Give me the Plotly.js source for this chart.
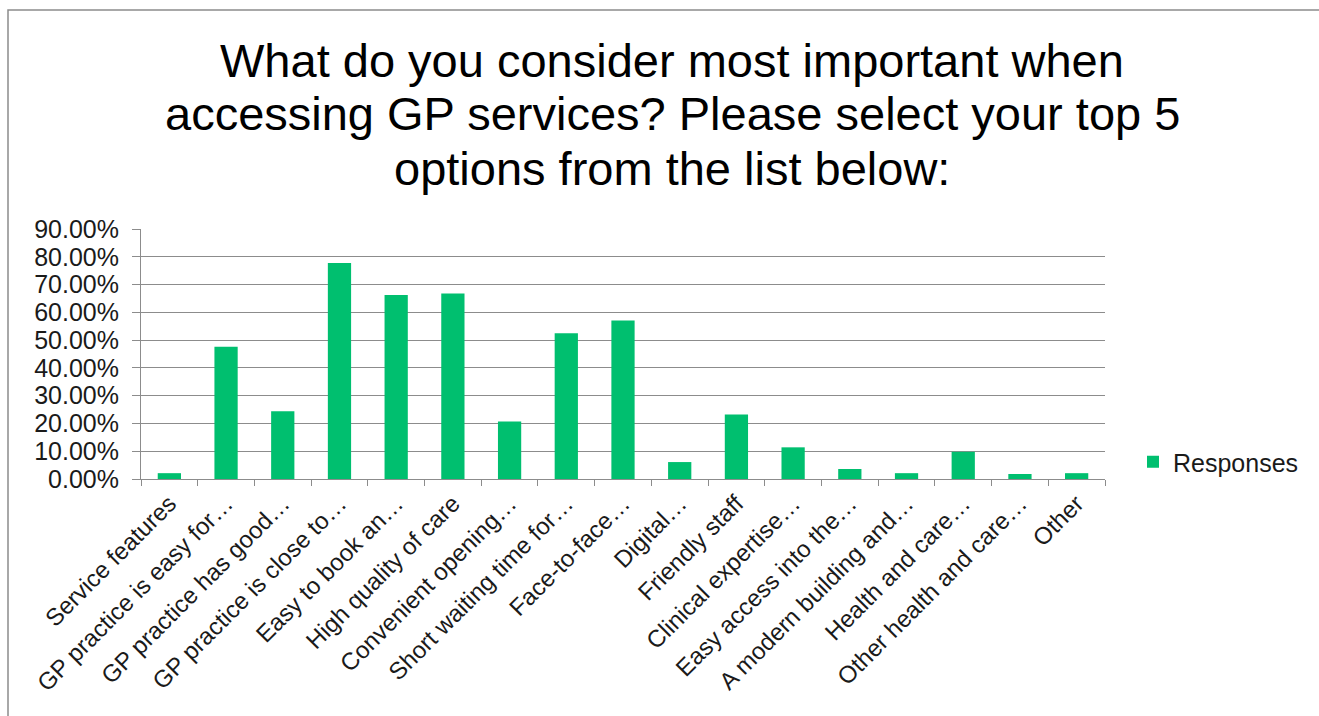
<!DOCTYPE html>
<html>
<head>
<meta charset="utf-8">
<script src="https://cdn.plot.ly/plotly-3.0.1.min.js"></script>
<style>
html,body{margin:0;padding:0;background:#fff;}
#chart{width:1319px;height:716px;}
</style>
</head>
<body>
<div id="chart"></div>
<script>
const categories = [
  "Service features",
  "GP practice is easy for\u2026",
  "GP practice has good\u2026",
  "GP practice is close to\u2026",
  "Easy to book an\u2026",
  "High quality of care",
  "Convenient opening\u2026",
  "Short waiting time for\u2026",
  "Face-to-face\u2026",
  "Digital\u2026",
  "Friendly staff",
  "Clinical expertise\u2026",
  "Easy access into the\u2026",
  "A modern building and\u2026",
  "Health and care\u2026",
  "Other health and care\u2026",
  "Other"
];
const responses = [0.021, 0.476, 0.244, 0.778, 0.662, 0.668, 0.207, 0.525, 0.571, 0.061, 0.232, 0.114, 0.036, 0.021, 0.098, 0.018, 0.021];
const yTickValues = [0, 0.1, 0.2, 0.3, 0.4, 0.5, 0.6, 0.7, 0.8, 0.9];
const titleLines = [
  "What do you consider most important when",
  "accessing GP services? Please select your top 5",
  "options from the list below:"
];
const seriesName = "Responses";

const FONT = "Liberation Sans, Arial, sans-serif";
const GRID = "#8c8c8c";
const PLOT_LEFT = 141, PLOT_W = 964, AXIS_Y = 479, PLOT_H = 250;
const titleCenters = [60, 113.6, 168.6]; // pixel rows of each title line's middle

const trace = {
  type: "bar",
  x: categories,
  y: responses,
  name: seriesName,
  marker: {color: "#00BF6F"},
  showlegend: true,
  hoverinfo: "x+y"
};

const annotations = titleLines.map((t, i) => ({
  text: t,
  xref: "paper", yref: "paper",
  x: (672 - PLOT_LEFT) / PLOT_W, xanchor: "center",
  y: (AXIS_Y - titleCenters[i]) / PLOT_H, yanchor: "middle",
  showarrow: false,
  font: {family: FONT, size: 47, color: "#000000"}
}));

const layout = {
  width: 1319,
  height: 716,
  paper_bgcolor: "#ffffff",
  plot_bgcolor: "#ffffff",
  margin: {l: 141, r: 214, t: 229, b: 237, pad: 0},
  bargap: 0.59,
  font: {family: FONT, color: "#1a1a1a", size: 25},
  annotations: annotations,
  xaxis: {
    type: "category",
    tickangle: -45,
    tickson: "boundaries",
    ticks: "outside",
    ticklen: 6,
    tickcolor: GRID,
    showline: true,
    linecolor: GRID,
    linewidth: 1,
    showgrid: false,
    tickfont: {family: FONT, size: 24, color: "#1a1a1a"},
    automargin: false
  },
  yaxis: {
    range: [0, 0.9],
    tickvals: yTickValues,
    tickformat: ".2%",
    showgrid: true,
    gridcolor: GRID,
    gridwidth: 1,
    showline: true,
    linecolor: GRID,
    linewidth: 1,
    ticks: "outside",
    ticklen: 8,
    tickcolor: GRID,
    zeroline: false,
    ticklabelstandoff: 8,
    tickfont: {family: FONT, size: 25, color: "#1a1a1a"},
    automargin: false
  },
  legend: {
    x: (1133 - PLOT_LEFT) / PLOT_W, xanchor: "left",
    y: (AXIS_Y - 462) / PLOT_H, yanchor: "middle",
    font: {family: FONT, size: 25, color: "#1a1a1a"},
    bgcolor: "rgba(0,0,0,0)",
    itemwidth: 30
  },
  shapes: [{
    type: "rect",
    xref: "paper", yref: "paper",
    x0: (8 - PLOT_LEFT) / PLOT_W, x1: 1.5,
    y0: -2, y1: (AXIS_Y - 10) / PLOT_H,
    line: {color: "#8c8c8c", width: 1.5},
    fillcolor: "rgba(0,0,0,0)",
    layer: "below"
  }]
};

Plotly.newPlot("chart", [trace], layout, {displayModeBar: false, staticPlot: true});
</script>
</body>
</html>
